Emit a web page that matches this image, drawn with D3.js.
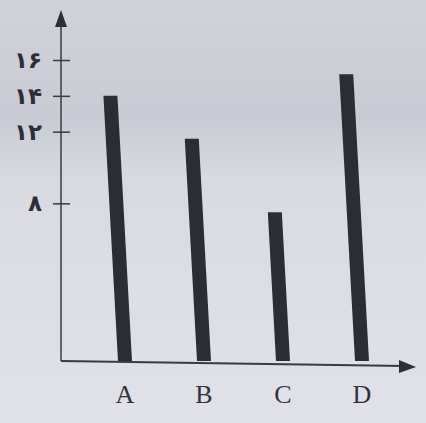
<!DOCTYPE html>
<html>
<head>
<meta charset="utf-8">
<script src="https://cdn.jsdelivr.net/npm/d3@7"></script>
<style>
  html, body { margin: 0; padding: 0; background: #dcdde5; }
  svg { display: block; }
</style>
</head>
<body>
<div id="chart"></div>
<script>
// chart values
const categories = ["A", "B", "C", "D"];
const values = [14, 11.6, 7.5, 15.2];
const yTicks = [8, 12, 14, 16];
const yTickLabels = ["۸", "۱۲", "۱۴", "۱۶"];

const config = {
  width: 426, height: 423,
  axisX: 61, baseY: 361,
  topY: 60, yMin: -0.8, yMax: 16,
  firstX: 125, lastX: 362,
  barWidth: 14, lean: 0.055
};

const svg = d3.select("#chart")
  .append("svg")
  .attr("width", config.width)
  .attr("height", config.height);

// photo-like background
const grad = svg.append("defs").append("linearGradient")
  .attr("id", "bg").attr("x1", 0).attr("y1", 0).attr("x2", 0).attr("y2", 1);
grad.append("stop").attr("offset", "0%").attr("stop-color", "#d1d2da");
grad.append("stop").attr("offset", "28%").attr("stop-color", "#c9cbd4");
grad.append("stop").attr("offset", "42%").attr("stop-color", "#d8d9e1");
grad.append("stop").attr("offset", "100%").attr("stop-color", "#e0e1e9");
svg.append("rect").attr("width", config.width).attr("height", config.height).attr("fill", "url(#bg)");

const xScale = d3.scalePoint().domain(categories).range([config.firstX, config.lastX]);
const yScale = d3.scaleLinear().domain([config.yMin, config.yMax]).range([config.baseY, config.topY]);

const ink = "#2c2c33";

// bars (slightly leaning like the printed sketch)
const bars = categories.map((c, i) => ({ cat: c, value: values[i] }));
svg.append("g")
  .selectAll("path")
  .data(bars)
  .enter()
  .append("path")
    .attr("fill", ink)
    .attr("d", d => {
      const xb = xScale(d.cat);
      const yt = yScale(d.value);
      const yb = yScale(config.yMin);
      const xt = xb - config.lean * (yb - yt);
      const w = config.barWidth / 2;
      return `M${xt - w},${yt} L${xt + w},${yt} L${xb + w},${yb} L${xb - w},${yb} Z`;
    });

// y axis with arrow
svg.append("line")
  .attr("x1", config.axisX).attr("x2", config.axisX)
  .attr("y1", config.baseY).attr("y2", 20)
  .attr("stroke", "#3a3a42").attr("stroke-width", 1.5);
svg.append("path")
  .attr("d", `M${config.axisX},10 L${config.axisX - 6},27 L${config.axisX + 6},27 Z`)
  .attr("fill", "#2e2e36");

const yAxis = d3.axisLeft(yScale)
  .tickValues(yTicks)
  .tickFormat((d, i) => yTickLabels[i])
  .tickSize(8)
  .tickPadding(11);

const yg = svg.append("g")
  .attr("transform", `translate(${config.axisX},0)`)
  .call(yAxis);
yg.select(".domain").remove();
yg.selectAll(".tick line")
  .attr("x1", 9).attr("x2", -8)
  .attr("stroke", "#3a3a42").attr("stroke-width", 1.5);
yg.selectAll(".tick text")
  .attr("fill", "#2e2e36")
  .style("font-family", "'DejaVu Sans', sans-serif")
  .style("font-size", "23px")
  .style("font-weight", "bold");

// x axis with arrow
svg.append("line")
  .attr("x1", config.axisX).attr("x2", 405)
  .attr("y1", config.baseY).attr("y2", config.baseY + 5)
  .attr("stroke", "#3a3a42").attr("stroke-width", 1.8);
svg.append("path")
  .attr("d", `M416,${config.baseY + 6} L399,${config.baseY - 1} L399,${config.baseY + 12} Z`)
  .attr("fill", "#2e2e36");

svg.append("g")
  .selectAll("text")
  .data(categories)
  .enter()
  .append("text")
    .attr("x", d => xScale(d))
    .attr("y", 403)
    .attr("text-anchor", "middle")
    .attr("fill", "#33333a")
    .style("font-family", "'Liberation Serif', serif")
    .style("font-size", "26px")
    .text(d => d);
</script>
</body>
</html>
